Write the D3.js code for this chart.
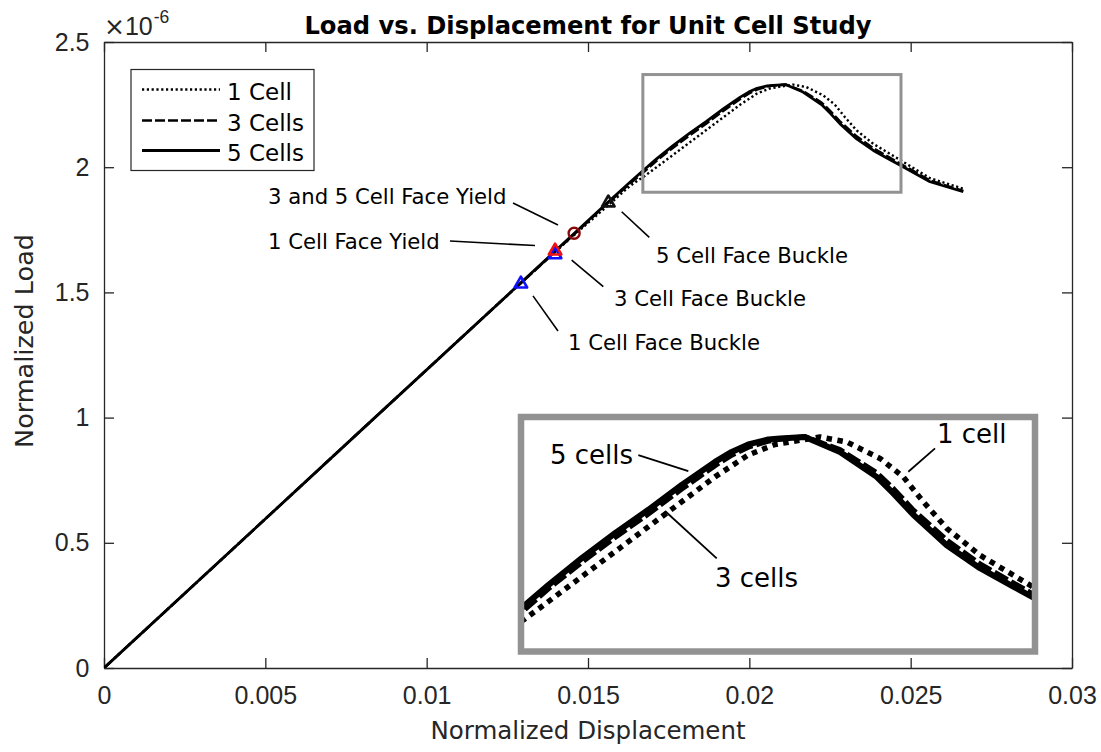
<!DOCTYPE html>
<html>
<head>
<meta charset="utf-8">
<script src="https://cdn.jsdelivr.net/npm/d3@7"></script>
<style>
  html, body { margin: 0; padding: 0; background: #fff; }
  svg { display: block; }
</style>
</head>
<body>
<svg id="chart" width="1101" height="752"></svg>
<script>
// ---- Data: normalized displacement vs normalized load (load in units of 1e-6) ----
const disp1Cell = [0, 0.004, 0.008, 0.012, 0.014, 0.0156, 0.0163, 0.016736, 0.017125, 0.017645, 0.018163,
  0.018681, 0.019201, 0.019719, 0.020238, 0.020653, 0.021354, 0.021769, 0.022288, 0.02265, 0.022962,
  0.023326, 0.023844, 0.024362, 0.024622, 0.0256, 0.02663];
const load1Cell = [0, 0.476, 0.953, 1.429, 1.665, 1.845, 1.925, 1.963, 2.000, 2.050, 2.100,
  2.150, 2.200, 2.250, 2.294, 2.315, 2.330, 2.320, 2.287, 2.250, 2.200,
  2.147, 2.093, 2.053, 2.033, 1.956, 1.914];

const disp3Cells = [0, 0.004, 0.008, 0.012, 0.014, 0.0156, 0.0163, 0.016736, 0.017125, 0.017645, 0.018163,
  0.018681, 0.019201, 0.019719, 0.019979, 0.020238, 0.020549, 0.020731, 0.02112, 0.021665, 0.022236,
  0.022495, 0.022806, 0.023326, 0.023844, 0.024362, 0.024649, 0.0256, 0.02663];
const load3Cells = [0, 0.476, 0.953, 1.429, 1.664, 1.855, 1.935, 1.982, 2.026, 2.079, 2.129,
  2.176, 2.226, 2.273, 2.294, 2.310, 2.322, 2.326, 2.330, 2.304, 2.258,
  2.226, 2.183, 2.123, 2.075, 2.037, 2.016, 1.947, 1.905];

const disp5Cells = [0, 0.004, 0.008, 0.012, 0.014, 0.0156, 0.0163, 0.016736, 0.017125, 0.017645, 0.018163,
  0.018681, 0.019201, 0.019719, 0.019979, 0.020238, 0.020549, 0.020731, 0.02112, 0.021665, 0.022236,
  0.022495, 0.022806, 0.023326, 0.023844, 0.024362, 0.024649, 0.0256, 0.02663];
const load5Cells = [0, 0.476, 0.953, 1.429, 1.667, 1.858, 1.940, 1.990, 2.033, 2.087, 2.137,
  2.184, 2.234, 2.280, 2.300, 2.315, 2.325, 2.327, 2.330, 2.300, 2.250,
  2.217, 2.174, 2.113, 2.067, 2.030, 2.010, 1.942, 1.902];

// Failure events marked along the curves
const eventNames = ["1 Cell Face Buckle", "3 Cell Face Buckle", "1 Cell Face Yield", "3 and 5 Cell Face Yield", "5 Cell Face Buckle"];
const eventDisp  = [0.01292, 0.01398, 0.01398, 0.01457, 0.01563];
const eventLoad  = [1.538, 1.655, 1.670, 1.736, 1.862];

// Axis ticks
const xTicks = [0, 0.005, 0.01, 0.015, 0.02, 0.025, 0.03];
const xTickLabels = ["0", "0.005", "0.01", "0.015", "0.02", "0.025", "0.03"];
const yTicks = [0, 0.5, 1, 1.5, 2, 2.5];
const yTickLabels = ["0", "0.5", "1", "1.5", "2", "2.5"];

// Zoom window shown in the inset
const zoomDisp = [0.0167, 0.0247];
const zoomLoad = [1.9, 2.37];

const seriesNames = ["1 Cell", "3 Cells", "5 Cells"];
const insetNames = ["1 cell", "3 cells", "5 cells"];

// ---- Styling / layout ----
const AX = "#262626";
const GRAY = "#929292";
const sansText = "'DejaVu Sans', sans-serif";
const sansTick = "'Liberation Sans', Arial, sans-serif";

const svg = d3.select("#chart");
const frame = { left: 104, right: 1072, top: 42, bottom: 668 };

const x = d3.scaleLinear().domain([0, 0.03]).range([frame.left, frame.right]);
const y = d3.scaleLinear().domain([0, 2.5]).range([frame.bottom, frame.top]);

const series = [
  { name: seriesNames[0], xs: disp1Cell, ys: load1Cell, main: { w: 2.4, dash: "2.2,2.6" }, inset: { w: 5.5, dash: "5.5,5.5" } },
  { name: seriesNames[1], xs: disp3Cells, ys: load3Cells, main: { w: 2.6, dash: "10,3" }, inset: { w: 5.5, dash: "15,4" } },
  { name: seriesNames[2], xs: disp5Cells, ys: load5Cells, main: { w: 2.8, dash: null }, inset: { w: 6, dash: null } }
];
series.forEach(s => { s.pts = s.xs.map((v, i) => [v, s.ys[i]]); });

const defs = svg.append("defs");
defs.append("clipPath").attr("id", "clipMain").append("rect")
  .attr("x", frame.left).attr("y", frame.top)
  .attr("width", frame.right - frame.left).attr("height", frame.bottom - frame.top);

// ---- Main axes ----
const gAxes = svg.append("g");

const axB = d3.axisBottom(x).tickValues(xTicks).tickFormat((d, i) => xTickLabels[i])
  .tickSizeInner(-10).tickSizeOuter(0).tickPadding(18.5);
const axT = d3.axisTop(x).tickValues(xTicks).tickFormat("").tickSizeInner(-10).tickSizeOuter(0);
const axL = d3.axisLeft(y).tickValues(yTicks).tickFormat((d, i) => yTickLabels[i])
  .tickSizeInner(-10).tickSizeOuter(0).tickPadding(14.5);
const axR = d3.axisRight(y).tickValues(yTicks).tickFormat("").tickSizeInner(-10).tickSizeOuter(0);

function styleAxis(g) {
  g.attr("font-size", null).attr("font-family", null);
  g.selectAll("path.domain").attr("stroke", AX).attr("stroke-width", 1.3);
  g.selectAll(".tick line").attr("stroke", AX).attr("stroke-width", 1.3);
  g.selectAll(".tick text").attr("fill", AX).style("font-family", sansTick).style("font-size", "25px");
}
gAxes.append("g").attr("transform", `translate(0,${frame.bottom})`).call(axB).call(styleAxis);
gAxes.append("g").attr("transform", `translate(0,${frame.top})`).call(axT).call(styleAxis);
gAxes.append("g").attr("transform", `translate(${frame.left},0)`).call(axL).call(styleAxis);
gAxes.append("g").attr("transform", `translate(${frame.right},0)`).call(axR).call(styleAxis);
gAxes.selectAll(".tick text").filter(function () { return this.textContent === ""; }).remove();

// exponent marker above the y axis
const expo = svg.append("text").attr("x", 104).attr("y", 35)
  .attr("fill", AX).style("font-family", sansTick).style("font-size", "25px");
expo.append("tspan").style("font-family", sansText).text("×");
expo.append("tspan").text("10");
expo.append("tspan").attr("dx", 1).attr("dy", -12.5).style("font-size", "17.5px").text("-6");

// Title and axis labels
svg.append("text").attr("x", 588).attr("y", 34).attr("text-anchor", "middle")
  .style("font-family", sansText).style("font-weight", "bold").style("font-size", "24.2px")
  .attr("fill", "#000").text("Load vs. Displacement for Unit Cell Study");
svg.append("text").attr("x", 588).attr("y", 739).attr("text-anchor", "middle")
  .style("font-family", sansText).style("font-size", "24.5px").attr("fill", AX)
  .text("Normalized Displacement");
svg.append("text").attr("transform", "translate(33,341) rotate(-90)").attr("text-anchor", "middle")
  .style("font-family", sansText).style("font-size", "25.5px").attr("fill", AX)
  .text("Normalized Load");

// ---- Curves in main axes ----
const lineMain = d3.line().x(d => x(d[0])).y(d => y(d[1]));
const gMain = svg.append("g").attr("clip-path", "url(#clipMain)");
series.forEach(s => {
  gMain.append("path").datum(s.pts).attr("d", lineMain)
    .attr("fill", "none").attr("stroke", "#000").attr("stroke-width", s.main.w)
    .attr("stroke-dasharray", s.main.dash).attr("stroke-linejoin", "round");
});

// Highlight box for the zoomed region
svg.append("rect")
  .attr("x", x(zoomDisp[0])).attr("y", y(zoomLoad[1]))
  .attr("width", x(zoomDisp[1]) - x(zoomDisp[0])).attr("height", y(zoomLoad[0]) - y(zoomLoad[1]))
  .attr("fill", "none").attr("stroke", GRAY).attr("stroke-width", 3);

// ---- Event markers ----
const eventStyle = {
  "1 Cell Face Buckle": { shape: "tri", color: "#1010ff" },
  "3 Cell Face Buckle": { shape: "tri", color: "#1010ff" },
  "1 Cell Face Yield": { shape: "tri", color: "#f01010" },
  "3 and 5 Cell Face Yield": { shape: "circle", color: "#8a0a0a" },
  "5 Cell Face Buckle": { shape: "tri", color: "#111" }
};
const triPath = d3.symbol(d3.symbolTriangle, 68)();
eventNames.forEach((nm, i) => {
  const st = eventStyle[nm];
  const cx = x(eventDisp[i]), cy = y(eventLoad[i]);
  if (st.shape === "tri") {
    svg.append("path").attr("d", triPath).attr("transform", `translate(${cx},${cy + 1})`)
      .attr("fill", "none").attr("stroke", st.color).attr("stroke-width", 2.6)
      .attr("stroke-linejoin", "round");
  } else {
    svg.append("circle").attr("cx", cx).attr("cy", cy).attr("r", 5.5)
      .attr("fill", "none").attr("stroke", st.color).attr("stroke-width", 2.4);
  }
});

// ---- Annotations (anchored in data units) ----
const mainNotes = [
  { text: "3 and 5 Cell Face Yield", at: [0.005083, 1.853], from: [0.012676, 1.857], to: [0.01407, 1.769] },
  { text: "1 Cell Face Yield",       at: [0.005083, 1.673], from: [0.010723, 1.705], to: [0.013357, 1.687] },
  { text: "1 Cell Face Buckle",      at: [0.01438, 1.270],  from: [0.013295, 1.486], to: [0.014070, 1.346] },
  { text: "3 Cell Face Buckle",      at: [0.015806, 1.446], from: [0.014494, 1.629], to: [0.015474, 1.523] },
  { text: "5 Cell Face Buckle",      at: [0.017107, 1.617], from: [0.016044, 1.822], to: [0.016900, 1.720] }
];
mainNotes.forEach(n => {
  svg.append("line").attr("x1", x(n.from[0])).attr("y1", y(n.from[1]))
    .attr("x2", x(n.to[0])).attr("y2", y(n.to[1]))
    .attr("stroke", "#000").attr("stroke-width", 1.6);
  svg.append("text").attr("x", x(n.at[0])).attr("y", y(n.at[1]))
    .style("font-family", sansText).style("font-size", "21.2px").attr("fill", "#000").text(n.text);
});

// ---- Legend ----
const lg = svg.append("g");
lg.append("rect").attr("x", 131).attr("y", 69.5).attr("width", 183).attr("height", 101)
  .attr("fill", "#fff").attr("stroke", AX).attr("stroke-width", 1.2);
const legRows = [89.5, 120.5, 150.5];
series.forEach((s, i) => {
  lg.append("line").attr("x1", 142).attr("x2", 220).attr("y1", legRows[i]).attr("y2", legRows[i])
    .attr("stroke", "#000").attr("stroke-width", s.main.w).attr("stroke-dasharray", s.main.dash);
  lg.append("text").attr("x", 227).attr("y", legRows[i] + 10)
    .style("font-family", sansText).style("font-size", "23px").attr("fill", "#000").text(s.name);
});

// ---- Inset: zoomed view of the peak ----
const inset = { left: 521, right: 1035, top: 417, bottom: 651.5 };
const xi = d3.scaleLinear().domain(zoomDisp).range([inset.left, inset.right]);
const yi = d3.scaleLinear().domain(zoomLoad).range([inset.bottom, inset.top]);

defs.append("clipPath").attr("id", "clipInset").append("rect")
  .attr("x", inset.left).attr("y", inset.top)
  .attr("width", inset.right - inset.left).attr("height", inset.bottom - inset.top);

svg.append("rect").attr("x", inset.left).attr("y", inset.top)
  .attr("width", inset.right - inset.left).attr("height", inset.bottom - inset.top)
  .attr("fill", "#fff");

const lineInset = d3.line().x(d => xi(d[0])).y(d => yi(d[1]));
const gIn = svg.append("g").attr("clip-path", "url(#clipInset)");
series.forEach(s => {
  gIn.append("path").datum(s.pts).attr("d", lineInset)
    .attr("fill", "none").attr("stroke", "#000").attr("stroke-width", s.inset.w)
    .attr("stroke-dasharray", s.inset.dash).attr("stroke-linejoin", "round");
});

const insetNotes = [
  { text: insetNames[2], at: [0.017151, 2.2758], from: [0.018526, 2.2938], to: [0.019304, 2.2617] },
  { text: insetNames[1], at: [0.019719, 2.0293], from: [0.018941, 2.1816], to: [0.019746, 2.0868] },
  { text: insetNames[0], at: [0.023175, 2.3178], from: [0.023144, 2.3072], to: [0.022728, 2.2603] }
];
insetNotes.forEach(n => {
  gIn.append("line").attr("x1", xi(n.from[0])).attr("y1", yi(n.from[1]))
    .attr("x2", xi(n.to[0])).attr("y2", yi(n.to[1]))
    .attr("stroke", "#000").attr("stroke-width", 1.8);
  svg.append("text").attr("x", xi(n.at[0])).attr("y", yi(n.at[1]))
    .style("font-family", sansText).style("font-size", "26px").attr("fill", "#000").text(n.text);
});

svg.append("rect").attr("x", inset.left).attr("y", inset.top)
  .attr("width", inset.right - inset.left).attr("height", inset.bottom - inset.top)
  .attr("fill", "none").attr("stroke", GRAY).attr("stroke-width", 6.5);
</script>
</body>
</html>
